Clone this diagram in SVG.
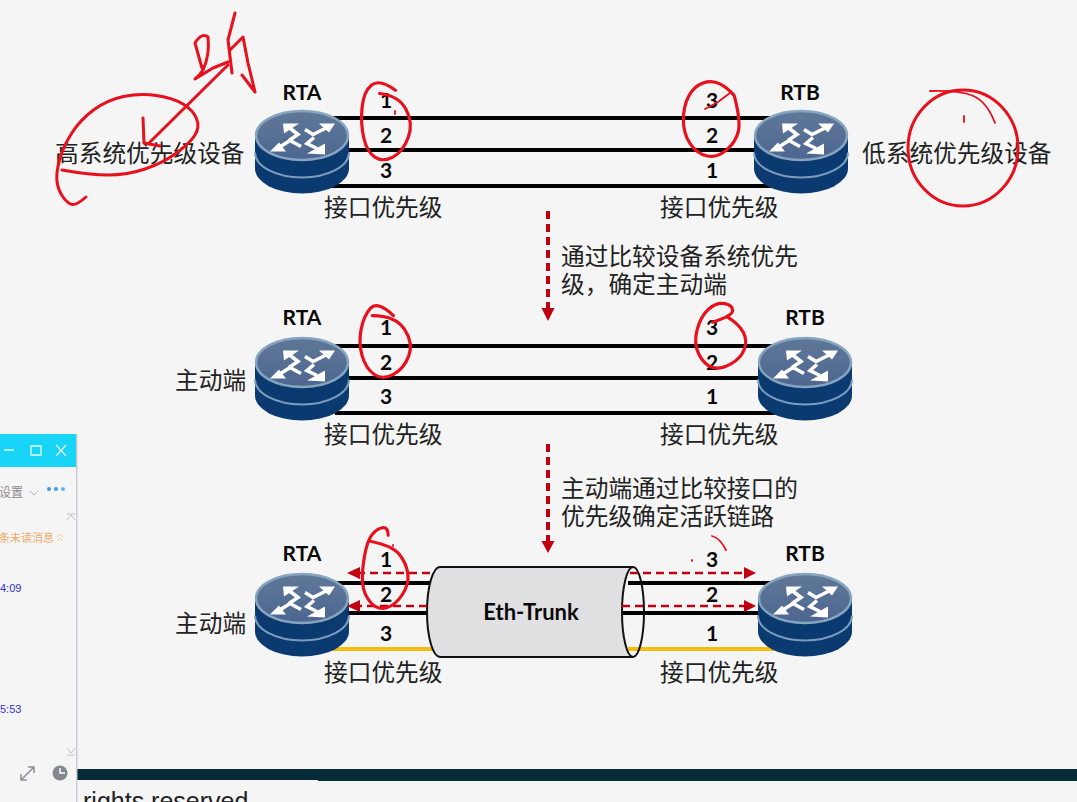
<svg xmlns="http://www.w3.org/2000/svg" width="1077" height="802" viewBox="0 0 1077 802">
<style>
text{font-family:"Noto Sans CJK SC","Noto Sans",sans-serif;fill:#222}
.zh{font-size:23.7px}
.sm{font-size:23.7px}
.b{font-family:Lato,"Open Sans",sans-serif;font-weight:700;fill:#0a0a0a;text-anchor:middle}
.n{font-size:21px}
.rt{font-size:21px}
.l{stroke:#000;stroke-width:4;fill:none}
.y{stroke:#f5bd12;stroke-width:4;fill:none}
.d{stroke:#c00010;stroke-width:2.6;stroke-dasharray:8 5;fill:none}
.v{stroke:#c00010;stroke-width:4;stroke-dasharray:8 5;fill:none}
.h{fill:#c00010}
.r{stroke:#e8101c;stroke-width:3;fill:none;stroke-linecap:round;stroke-linejoin:round}
.r2{stroke:#e8101c;stroke-width:1.8;fill:none;stroke-linecap:round}
.ar{stroke:#fff;stroke-width:3.6;fill:none;stroke-linejoin:miter}
.wt{fill:#fff}
.ui{font-size:11px}
</style>
<defs>
<linearGradient id="top" x1="0" y1="0" x2="0" y2="1"><stop offset="0" stop-color="#5f7898"/><stop offset="1" stop-color="#4d6690"/></linearGradient>
<g id="router">
<path d="M-47 0V33A47 25 0 0 0 47 33V0Z" fill="#0a3a70"/>
<path d="M-47 17A47 25 0 0 0 47 17" fill="none" stroke="#7c9dbd" stroke-width="2"/>
<ellipse rx="46" ry="24.500" fill="url(#top)" stroke="#86a5c0" stroke-width="2.400"/>
<path class="ar" d="M3 -6L11 -1L25 -8"/><path class="wt" d="M33 -12L17 -12L27 -3Z"/>
<path class="ar" d="M-1 11L-12 5L-23 12"/><path class="wt" d="M-32 16L-16 16L-23 7Z"/>
<path class="ar" d="M-13 -8L-4 -1L-13 5"/><path class="wt" d="M-19 -12L-3 -12L-18 -2Z"/>
<path class="ar" d="M15 13L5 8L12 2"/><path class="wt" d="M23 19L5 18L23 8Z"/>
</g>
</defs>
<rect width="1077" height="802" fill="#f5f5f5"/>

<g id="connectors">
<path class="l" d="M330 118H775M330 150H775M330 186H775"/>
<path class="l" d="M335 346H775M335 378H775M335 413H775"/>
<path class="l" d="M330 583H440M330 613H440M628 583H775M622 613H775"/>
<path class="y" d="M330 649H440M628 649H775"/>
<path class="v" d="M548 211V308"/><path class="h" d="M541.500 308H554.500L548 321Z"/>
<path class="v" d="M548 444V541"/><path class="h" d="M541.500 541H554.500L548 553Z"/>
</g>

<g id="rta1"><use href="#router" x="302" y="135.500"/><text class="b rt" x="302" y="100">RTA</text></g>
<g id="rtb1"><use href="#router" x="801" y="135.500"/><text class="b rt" x="800" y="100">RTB</text></g>
<g id="rta2"><use href="#router" x="302" y="362.500"/><text class="b rt" x="302" y="325">RTA</text></g>
<g id="rtb2"><use href="#router" x="805" y="362.500"/><text class="b rt" x="805" y="325">RTB</text></g>
<g id="rta3"><use href="#router" x="302" y="598.500"/><text class="b rt" x="302" y="561">RTA</text></g>
<g id="rtb3"><use href="#router" x="805" y="598.500"/><text class="b rt" x="805" y="561">RTB</text></g>

<g id="eth-trunk">
<path d="M440 567H633A11 45 0 0 0 633 657H440A13 45 0 0 1 440 567Z" fill="#e0dfe2" stroke="#111" stroke-width="2"/>
<path d="M633 567A11 45 0 0 1 633 657" fill="none" stroke="#111" stroke-width="2"/>
<text class="b" x="531" y="620" font-size="22">Eth-Trunk</text>
</g>

<g id="flows">
<path class="d" d="M430 573H358"/><path class="h" d="M347 573L360 567V579Z"/>
<path class="d" d="M427 606H358"/><path class="h" d="M347 606L360 600V612Z"/>
<path class="d" d="M630 573H745"/><path class="h" d="M756 573L744 567V579Z"/>
<path class="d" d="M622 606H745"/><path class="h" d="M756 606L744 600V612Z"/>
</g>

<g id="labels">
<text class="zh" x="55" y="162">高系统优先级设备</text>
<text class="zh" x="862" y="162">低系统优先级设备</text>
<text class="zh" x="324" y="216">接口优先级</text>
<text class="zh" x="660" y="216">接口优先级</text>
<text class="sm" x="561" y="265">通过比较设备系统优先</text>
<text class="sm" x="561" y="293">级，确定主动端</text>
<text class="zh" x="175" y="389">主动端</text>
<text class="zh" x="324" y="443">接口优先级</text>
<text class="zh" x="660" y="443">接口优先级</text>
<text class="sm" x="561" y="497">主动端通过比较接口的</text>
<text class="sm" x="561" y="525">优先级确定活跃链路</text>
<text class="zh" x="175" y="632">主动端</text>
<text class="zh" x="324" y="681">接口优先级</text>
<text class="zh" x="660" y="681">接口优先级</text>
</g>
<g id="numbers">
<text class="b n" x="386" y="108">1</text><text class="b n" x="386" y="143">2</text><text class="b n" x="386" y="178">3</text>
<text class="b n" x="712" y="108">3</text><text class="b n" x="712" y="143">2</text><text class="b n" x="712" y="178">1</text>
<text class="b n" x="386" y="335">1</text><text class="b n" x="386" y="370">2</text><text class="b n" x="386" y="404">3</text>
<text class="b n" x="712" y="335">3</text><text class="b n" x="712" y="370">2</text><text class="b n" x="712" y="404">1</text>
<text class="b n" x="386" y="567">1</text><text class="b n" x="386" y="602">2</text><text class="b n" x="386" y="641">3</text>
<text class="b n" x="712" y="567">3</text><text class="b n" x="712" y="602">2</text><text class="b n" x="712" y="641">1</text>
</g>

<g id="bottom-bar">
<rect x="76" y="769" width="1001" height="11" fill="#052b38"/>
<rect x="318" y="780" width="759" height="1" fill="#052b38"/>
<text x="83" y="810" style="font-family:'Liberation Sans',sans-serif;fill:#222;font-size:25px">rights reserved</text>
</g>

<g id="side-window">
<rect x="0" y="434" width="76" height="368" fill="#f5f5f5"/>
<rect x="76" y="434" width="1.500" height="368" fill="#c9ccd2"/>
<rect x="0" y="434" width="76" height="33" fill="#18d4f6"/>
<path d="M4 450H14M31 446H41V455H31ZM56 445L66 456M66 445L56 456" stroke="#e8fbff" stroke-width="1.300" fill="none"/>
<text class="ui" x="-1" y="497" style="fill:#8a8a8a;font-size:12px">设置</text>
<path d="M30 491L34 495L38 491" stroke="#b5b5b5" fill="none"/>
<circle cx="49" cy="489" r="2" fill="#3f97ee"/><circle cx="56" cy="489" r="2" fill="#3f97ee"/><circle cx="63" cy="489" r="2" fill="#5fb0f2"/>
<path d="M67 514H75M67 520L71 515L75 520" stroke="#c2c2c2" fill="none"/>
<text class="ui" x="-1" y="542" style="fill:#f0aa68">条未读消息</text>
<path d="M57 537L60 534L63 537M57 541L60 538L63 541" stroke="#f3c597" fill="none"/>
<text class="ui" x="0" y="592" style="fill:#3232d2;font-family:'Liberation Sans',sans-serif">4:09</text>
<text class="ui" x="0" y="713" style="fill:#3232d2;font-family:'Liberation Sans',sans-serif">5:53</text>
<path d="M67 748L71 753L75 748M67 755H75" stroke="#c2c2c2" fill="none"/>
<path d="M21 780L34 767M28 767H34V773M21 774V780H27" stroke="#8f949a" stroke-width="1.600" fill="none"/>
<circle cx="60" cy="773" r="7.500" fill="#83878e"/><path d="M60 768V773H65" stroke="#fff" stroke-width="1.500" fill="none"/>
</g>

<g id="handwriting">
<path class="r" d="M62 170Q90 175 108.500 175T145 169T176.500 153T195 135T196.500 118.500T183 104T156.500 95.500T123.500 96.500T93.500 110T71.500 133.500T59.500 160T57 181.500T63 197T72.500 204.500T86 197"/>
<path class="r" d="M228 65L150 142M143 118L144 143L160 146"/>
<path class="r" d="M195 43Q202 32 208 37Q210 55 203 70Q200 75 195 79L213 68L228 62M195 43L202 68"/>
<path class="r" d="M235 13L228 40L232 73M230 50L243 37L248 63L255 92L242 75"/>
<path class="r" transform="translate(387 120) scale(1.060) translate(-387 -120)" d="M380 95Q398 97 405 110T407 136.500T392.500 155T375.500 155T365 136.500T363.500 108T372.500 87T395 92"/>
<path class="r2" d="M395 111V114M705 109L718 102L730 93"/>
<path class="r" transform="translate(712 120) scale(1.060) translate(-712 -120)" d="M733 97Q739 120 737 130T726 148T707.500 154T691.500 142.500T685 120T690 97.500T703.500 85T719.500 86T733 97"/>
<ellipse class="r" cx="963" cy="148" rx="55" ry="58"/>
<path class="r2" d="M930 91Q960 90 973.500 96T995 123M964 116V122"/>
<path class="r" transform="translate(386 340) scale(1.060) translate(-386 -340)" d="M373 317Q395 317 403.500 330T407.500 355T393 372.500T375 372.500T363.500 355T362.500 330T371.500 310T393 317"/>
<path class="r" transform="translate(721 336) scale(1.060) translate(-721 -336)" d="M713 323Q732 317 732 312T724.500 305.500T709.500 310.500T698.500 330T700 353T712.500 365.500T730 362.500T743 348.500T742 332.500T727 318"/>
<path class="r" transform="translate(386 568) scale(1.060) translate(-386 -568)" d="M388 537Q388 529 382.500 530T372.500 537T365.500 558T364 583T371.500 600.500T386.500 605.500T401.500 593T406.500 573T398.500 555T372 543"/>
<path class="r2" d="M393 545V546M692 560V561M712 536Q720 538 726 550"/>
</g>
</svg>
